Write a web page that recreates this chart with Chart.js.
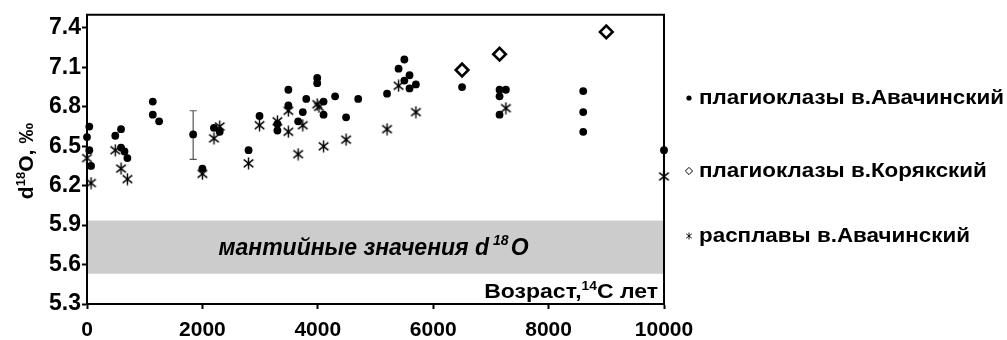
<!DOCTYPE html>
<html><head><meta charset="utf-8">
<script src="https://cdn.jsdelivr.net/npm/chart.js@4/dist/chart.umd.min.js"></script>
<style>html,body{margin:0;padding:0;background:#fff}#wrap{width:1007px;height:340px;position:relative}</style>
</head><body><div id="wrap"><canvas id="c" width="1007" height="340"></canvas></div>
<script>
// ---- data ----
const xTicks = [0, 2000, 4000, 6000, 8000, 10000];
const yTicks = [5.3, 5.6, 5.9, 6.2, 6.5, 6.8, 7.1, 7.4];
const xRange = [0, 10000];
const yRange = [5.3, 7.5];
const mantleBand = [5.53, 5.935];

const seriesNames = ['плагиоклазы в.Авачинский', 'плагиоклазы в.Корякский', 'расплавы в.Авачинский'];
const bandLabel = ['мантийные значения d', '18', 'O'];
const xTitle = ['Возраст,', '14', 'C лет'];
const yTitle = ['d', '18', 'O, ‰'];

const avaPlagX = [0, 40, 40, 70, 490, 590, 590, 650, 700, 1140, 1140, 1250, 1840, 2000, 2200, 2300, 2800, 2990, 3300, 3300, 3490, 3490, 3660, 3740, 3800, 3990, 3990, 4100, 4100, 4300, 4490, 4700, 5200, 5400, 5500, 5590, 5500, 5700, 5590, 6500, 7150, 7260, 7150, 7150, 8600, 8600, 8600, 10000];
const avaPlagY = [6.57, 6.65, 6.47, 6.35, 6.58, 6.63, 6.49, 6.46, 6.41, 6.84, 6.74, 6.69, 6.59, 6.33, 6.64, 6.61, 6.47, 6.73, 6.67, 6.62, 6.93, 6.81, 6.69, 6.76, 6.86, 7.02, 6.98, 6.84, 6.74, 6.88, 6.72, 6.86, 6.90, 7.09, 7.16, 7.04, 7.00, 6.97, 6.94, 6.95, 6.93, 6.93, 6.88, 6.74, 6.92, 6.76, 6.61, 6.47];

const korPlagX = [6500, 7150, 9000];
const korPlagY = [7.08, 7.20, 7.37];

const avaMeltX = [0, 70, 490, 590, 700, 2000, 2200, 2300, 2800, 2990, 3300, 3490, 3490, 3660, 3740, 3990, 4020, 4100, 4490, 5200, 5400, 5700, 7260, 10000];
const avaMeltY = [6.41, 6.22, 6.47, 6.33, 6.25, 6.29, 6.56, 6.65, 6.37, 6.66, 6.69, 6.77, 6.61, 6.44, 6.66, 6.82, 6.80, 6.50, 6.55, 6.63, 6.96, 6.76, 6.79, 6.27];

const errX = [1840];
const errLow = [6.40];
const errHigh = [6.77];

// ---- helpers ----
const FAM = '"Liberation Sans", Arial, sans-serif';
function pts(xs, ys) { return xs.map((x, i) => ({ x: x, y: ys[i] })); }

function makeAsterisk(size, lw, color) {
  const c = document.createElement('canvas');
  c.width = size; c.height = size;
  const g = c.getContext('2d');
  g.strokeStyle = color; g.lineWidth = lw;
  const m = size / 2, r = size / 2 - 0.5;
  g.beginPath();
  g.moveTo(m, m - r); g.lineTo(m, m + r);
  g.moveTo(m - 0.8 * r, m - 0.65 * r); g.lineTo(m + 0.8 * r, m + 0.65 * r);
  g.moveTo(m + 0.8 * r, m - 0.65 * r); g.lineTo(m - 0.8 * r, m + 0.65 * r);
  g.stroke();
  return c;
}
const asterisk = makeAsterisk(13, 1.4, '#000');

function richDraw(ctx, parts, x, y, align, sx) {
  sx = sx || 1;
  let w = 0;
  parts.forEach(p => { ctx.font = p.font; w += ctx.measureText(p.t).width + (p.gap || 0); });
  w *= sx;
  let x0 = align === 'center' ? x - w / 2 : (align === 'right' ? x - w : x);
  ctx.save();
  ctx.translate(x0, y);
  ctx.scale(sx, 1);
  ctx.textAlign = 'left';
  ctx.textBaseline = 'alphabetic';
  let cx = 0;
  parts.forEach(p => {
    ctx.font = p.font;
    cx += (p.gap || 0);
    ctx.fillText(p.t, cx, (p.dy || 0));
    cx += ctx.measureText(p.t).width;
  });
  ctx.restore();
}

const decor = {
  id: 'decor',
  beforeDatasetsDraw(chart) {
    const { ctx, chartArea: a, scales: { x, y } } = chart;
    ctx.save();
    // mantle band
    const yt = y.getPixelForValue(mantleBand[1]);
    const yb = y.getPixelForValue(mantleBand[0]);
    ctx.fillStyle = '#cccccc';
    ctx.fillRect(a.left + 1, yt, a.right - a.left - 2, yb - yt);
    ctx.fillStyle = '#000';
    const bi = 'italic bold ';
    richDraw(ctx, [
      { t: bandLabel[0], font: bi + '23px ' + FAM },
      { t: bandLabel[1], font: bi + '14px ' + FAM, dy: -10, gap: 4 },
      { t: bandLabel[2], font: bi + '23px ' + FAM, gap: 2 }
    ], (a.left + a.right) / 2 - 2, (yt + yb) / 2 + 7.5, 'center');
    // x title inside plot
    richDraw(ctx, [
      { t: xTitle[0], font: 'bold 20px ' + FAM },
      { t: xTitle[1], font: 'bold 12px ' + FAM, dy: -8 },
      { t: xTitle[2], font: 'bold 20px ' + FAM }
    ], a.right - 6, a.bottom - 6, 'right', 1.15);
    // frame top + right
    ctx.strokeStyle = '#000'; ctx.lineWidth = 2;
    ctx.beginPath();
    ctx.moveTo(a.left - 1, a.top); ctx.lineTo(a.right, a.top); ctx.lineTo(a.right, a.bottom + 1);
    ctx.stroke();
    // error bars
    ctx.strokeStyle = '#555'; ctx.lineWidth = 1.2;
    errX.forEach((ex, i) => {
      const px = x.getPixelForValue(ex);
      const p1 = y.getPixelForValue(errLow[i]);
      const p2 = y.getPixelForValue(errHigh[i]);
      ctx.beginPath();
      ctx.moveTo(px, p1); ctx.lineTo(px, p2);
      ctx.moveTo(px - 3.5, p1); ctx.lineTo(px + 3.5, p1);
      ctx.moveTo(px - 3.5, p2); ctx.lineTo(px + 3.5, p2);
      ctx.stroke();
    });
    ctx.restore();
  },
  afterDraw(chart) {
    const { ctx } = chart;
    ctx.save();
    ctx.fillStyle = '#000';
    // y title rotated
    ctx.translate(25, 161);
    ctx.rotate(-Math.PI / 2);
    richDraw(ctx, [
      { t: yTitle[0], font: 'bold 21px ' + FAM },
      { t: yTitle[1], font: 'bold 13px ' + FAM, dy: -8 },
      { t: yTitle[2], font: 'bold 21px ' + FAM }
    ], 0, 7.5, 'center');
    ctx.restore();

    // legend
    ctx.save();
    const lx = 689, tx = 699, ys = [97, 170, 235];
    ctx.fillStyle = '#000';
    seriesNames.forEach((s, i) => {
      richDraw(ctx, [{ t: s, font: 'bold 20px ' + FAM }], tx, ys[i] + 7, 'left', 1.12);
    });
    ctx.beginPath(); ctx.arc(lx, ys[0] + 1, 2.6, 0, Math.PI * 2); ctx.fill();
    ctx.strokeStyle = '#000'; ctx.lineWidth = 1;
    const d = 3.6, cy = ys[1] + 1;
    ctx.beginPath(); ctx.moveTo(lx, cy - d); ctx.lineTo(lx + d, cy); ctx.lineTo(lx, cy + d); ctx.lineTo(lx - d, cy); ctx.closePath(); ctx.stroke();
    const sm = makeAsterisk(8, 0.9, '#000');
    ctx.drawImage(sm, lx - 4, ys[2] + 1 - 4);
    ctx.restore();
  }
};

new Chart(document.getElementById('c'), {
  type: 'scatter',
  data: {
    datasets: [
      { label: seriesNames[0], data: pts(avaPlagX, avaPlagY), pointStyle: 'circle', pointRadius: 3.9, backgroundColor: '#000', borderWidth: 0, clip: false },
      { label: seriesNames[1], data: pts(korPlagX, korPlagY), pointStyle: 'rectRot', pointRadius: 6.3, backgroundColor: '#fff', borderColor: '#000', borderWidth: 2.6, clip: false },
      { label: seriesNames[2], data: pts(avaMeltX, avaMeltY), pointStyle: asterisk, pointRadius: 6, clip: false }
    ]
  },
  options: {
    responsive: false,
    animation: false,
    devicePixelRatio: 1,
    layout: { padding: { left: 0, top: 13, right: 343, bottom: 0 } },
    plugins: { legend: { display: false }, tooltip: { enabled: false } },
    scales: {
      x: {
        type: 'linear', min: xRange[0], max: xRange[1],
        afterBuildTicks: s => { s.ticks = xTicks.map(v => ({ value: v })); },
        afterFit: s => { s.height = 36; },
        grid: { drawOnChartArea: false, drawTicks: true, tickLength: 5, tickColor: '#000', tickWidth: 2 },
        border: { display: true, color: '#000', width: 2 },
        ticks: { color: '#000', font: { family: FAM, weight: 'bold', size: 21 }, padding: 9, maxRotation: 0, callback: v => String(v) }
      },
      y: {
        type: 'linear', min: yRange[0], max: yRange[1],
        afterBuildTicks: s => { s.ticks = yTicks.map(v => ({ value: v })); },
        afterFit: s => { s.width = 87; },
        grid: { drawOnChartArea: false, drawTicks: true, tickLength: 5, tickColor: '#000', tickWidth: 2 },
        border: { display: true, color: '#000', width: 2 },
        ticks: { color: '#000', font: { family: FAM, weight: 'bold', size: 23 }, padding: 1, callback: v => Number(v).toFixed(1) }
      }
    }
  },
  plugins: [decor]
});
</script>
</body></html>
